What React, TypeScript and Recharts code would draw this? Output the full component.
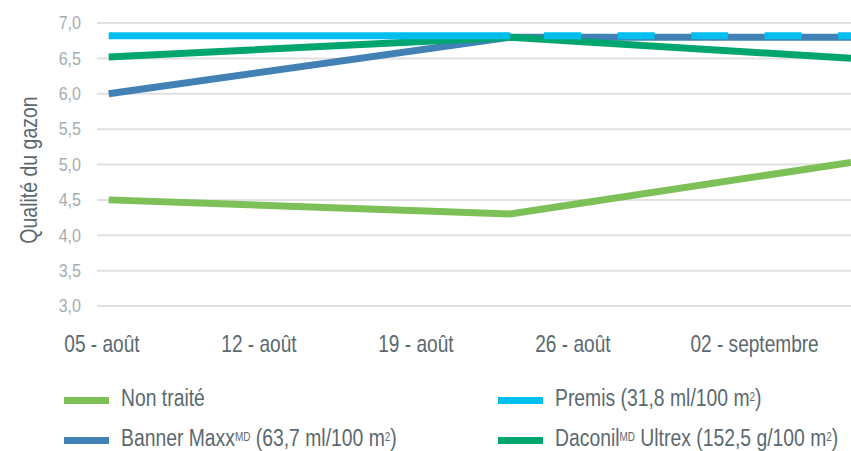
import React from 'react';
import { LineChart, Line, XAxis, YAxis, CartesianGrid } from 'recharts';

// Days since 05 août
const pointDays = [0.3, 18.2, 33.4];
const nonTraite = [4.5, 4.3, 5.03];
const bannerMaxx = [6.0, 6.8, 6.8];
const premis = [6.82, 6.82, 6.82];
const daconil = [6.52, 6.8, 6.5];

const tickDays = [0, 7, 14, 21, 29.1];
const tickLabels = ['05 - août', '12 - août', '19 - août', '26 - août', '02 - septembre'];
const yTicks = [3, 3.5, 4, 4.5, 5, 5.5, 6, 6.5, 7];

const COLORS = {
  nonTraite: '#7DC057',
  banner: '#4281B5',
  premis: '#00BFEF',
  daconil: '#00A56F',
};

const data = pointDays.map((d, i) => ({
  day: d,
  nonTraite: nonTraite[i],
  banner: bannerMaxx[i],
  daconil: daconil[i],
  premisSolid: i <= 1 ? premis[i] : null,
  premisDash: i >= 1 ? premis[i] : null,
}));

const FONT = '"Liberation Sans", Arial, sans-serif';
const TEXT = '#5b696f';
const NARROW = 0.83;

const sup = { fontSize: 12, verticalAlign: 'top', position: 'relative' as const, top: -1 };

const legendItems = [
  { color: COLORS.nonTraite, left: 64, y: 400.5, label: <>Non traité</> },
  { color: COLORS.banner, left: 64, y: 440.5, label: <>Banner Maxx<span style={sup}>MD</span> (63,7 ml/100 m<span style={sup}>2</span>)</> },
  { color: COLORS.premis, left: 498, y: 400.5, label: <>Premis (31,8 ml/100 m<span style={sup}>2</span>)</> },
  { color: COLORS.daconil, left: 498, y: 440.5, label: <>Daconil<span style={sup}>MD</span> Ultrex (152,5 g/100 m<span style={sup}>2</span>)</> },
];

const XTick = (props: any) => {
  const { x, y, payload } = props;
  const i = tickDays.indexOf(payload.value);
  return (
    <g transform={`translate(${x},${y})`}>
      <text transform={`scale(${NARROW},1)`} textAnchor="middle" dy="0.71em" fill={TEXT} fontSize={23} fontFamily={FONT}>
        {tickLabels[i] ?? ''}
      </text>
    </g>
  );
};

const YTick = (props: any) => {
  const { x, y, payload } = props;
  return (
    <g transform={`translate(${x},${y})`}>
      <text transform="scale(0.92,1)" textAnchor="end" dy="0.36em" fill="#a5acb0" fontSize={17.5} fontFamily={FONT}>
        {Number(payload.value).toFixed(1).replace('.', ',')}
      </text>
    </g>
  );
};

export default function App() {
  return (
    <div style={{ position: 'absolute', left: 0, top: 0, width: 851, height: 451, overflow: 'hidden', background: '#fff', fontFamily: FONT }}>
      <LineChart width={851} height={451} data={data} margin={{ top: 23, right: 0, bottom: 105, left: 0 }}>
        <CartesianGrid vertical={false} stroke="#e0e0e0" strokeWidth={2} />
        <XAxis
          dataKey="day"
          type="number"
          domain={[-0.22, 33.4]}
          ticks={tickDays}
          interval={0}
          axisLine={false}
          tickLine={false}
          tickSize={0}
          tickMargin={30}
          height={40}
          tick={<XTick />}
        />
        <YAxis
          type="number"
          domain={[3, 7]}
          ticks={yTicks}
          interval={0}
          width={97}
          axisLine={false}
          tickLine={false}
          tickSize={0}
          tickMargin={16}
          tick={<YTick />}
          label={{
            content: () => (
              <g transform="translate(37,170) rotate(-90)">
                <text transform={`scale(${NARROW},1)`} textAnchor="middle" fill={TEXT} fontSize={23.5} fontFamily={FONT}>
                  Qualité du gazon
                </text>
              </g>
            ),
          }}
        />
        <Line dataKey="banner" stroke={COLORS.banner} strokeWidth={7} dot={false} activeDot={false} isAnimationActive={false} />
        <Line dataKey="nonTraite" stroke={COLORS.nonTraite} strokeWidth={7} dot={false} activeDot={false} isAnimationActive={false} />
        <Line dataKey="daconil" stroke={COLORS.daconil} strokeWidth={7} dot={false} activeDot={false} isAnimationActive={false} />
        <Line dataKey="premisSolid" stroke={COLORS.premis} strokeWidth={7} dot={false} activeDot={false} isAnimationActive={false} />
        <Line
          dataKey="premisDash"
          stroke={COLORS.premis}
          strokeWidth={7}
          strokeDasharray="37 36.5"
          strokeDashoffset={39.5}
          dot={false}
          activeDot={false}
          isAnimationActive={false}
        />
      </LineChart>
      {legendItems.map((it, i) => (
        <React.Fragment key={i}>
          <div style={{ position: 'absolute', left: it.left, top: it.y - 3.5, width: 45, height: 7, background: it.color }} />
          <div
            style={{
              position: 'absolute',
              left: it.left + 57,
              top: it.y + 6 - 22.3,
              height: 28,
              lineHeight: '28px',
              fontSize: 23.3,
              color: TEXT,
              fontFamily: FONT,
              whiteSpace: 'nowrap',
              transform: `scaleX(${NARROW})`,
              transformOrigin: 'left center',
            }}
          >
            {it.label}
          </div>
        </React.Fragment>
      ))}
    </div>
  );
}
